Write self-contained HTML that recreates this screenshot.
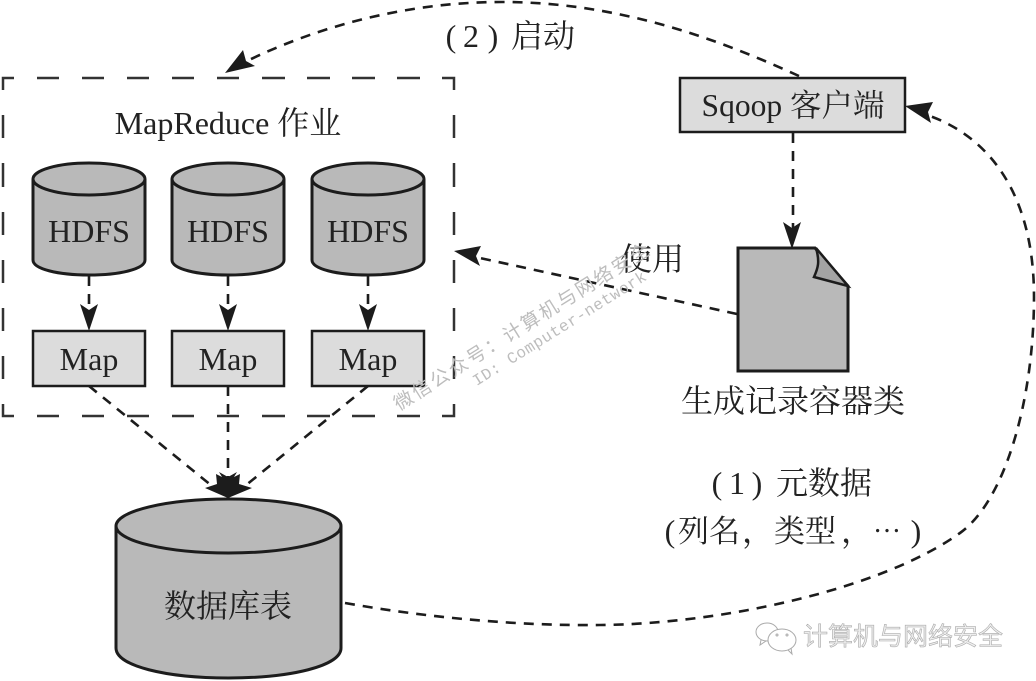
<!DOCTYPE html>
<html><head><meta charset="utf-8">
<style>
html,body{margin:0;padding:0;background:#fff;width:1036px;height:681px;overflow:hidden}
svg{display:block}
text{font-family:"Liberation Serif","Noto Serif CJK SC",serif;fill:#222;font-size:32px}
.c{text-anchor:middle}
.cy{fill:#b9b9b9;stroke:#1c1c1c;stroke-width:3}
.bx{fill:#dcdcdc;stroke:#1c1c1c;stroke-width:2.5}
.d{fill:none;stroke:#1c1c1c;stroke-width:2.6;stroke-dasharray:10 8}
.h{fill:#1c1c1c}
.wm{font-family:"Liberation Sans","Noto Sans CJK SC",sans-serif;fill:#bdbdbd;font-size:19px}
</style></head><body>
<svg width="1036" height="681" viewBox="0 0 1036 681" xmlns="http://www.w3.org/2000/svg">
<rect width="1036" height="681" fill="#fff"/>
<path fill="none" stroke="#333" stroke-width="2.5" d="M14 78H3V90M37 78H59M82 78H104M127 78H149M172 78H194M217 78H239M262 78H285M307 78H330M352 78H375M397 78H420M442 78H454V90M3 115V138M3 163V187M3 212V235M3 260V283M3 308V331M3 356V379M3 404V416H14M37 416H59M82 416H104M127 416H149M172 416H194M217 416H239M262 416H285M307 416H330M352 416H375M397 416H420M442 416H454V404M454 115V138M454 163V187M454 212V235M454 260V283M454 308V331M454 356V379"/>

<text x="228" y="134" class="c">MapReduce 作业</text>

<path class="cy" d="M33 179V260C33 269 58 275 89 275S145 269 145 260V179"/><ellipse class="cy" cx="89" cy="179" rx="56" ry="16"/>
<path class="cy" d="M172 179V260C172 269 197 275 228 275S284 269 284 260V179"/><ellipse class="cy" cx="228" cy="179" rx="56" ry="16"/>
<path class="cy" d="M312 179V260C312 269 337 275 368 275S424 269 424 260V179"/><ellipse class="cy" cx="368" cy="179" rx="56" ry="16"/>
<text x="89" y="242" class="c">HDFS</text><text x="228" y="242" class="c">HDFS</text><text x="368" y="242" class="c">HDFS</text>

<path class="d" d="M89 276V306M228 276V306M368 276V306"/>
<path class="h" d="M89 331L80 304L89 310L98 304ZM228 331L219 304L228 310L237 304ZM368 331L359 304L368 310L377 304Z"/>

<rect class="bx" x="33" y="331" width="112" height="55"/>
<rect class="bx" x="172" y="331" width="112" height="55"/>
<rect class="bx" x="312" y="331" width="112" height="55"/>
<text x="89" y="370" class="c">Map</text><text x="228" y="370" class="c">Map</text><text x="368" y="370" class="c">Map</text>

<path class="d" d="M89 386L212 486M228 386V478M368 386L245 486"/>
<path class="h" d="M228 498L205 488L217 484L216 474L222 477L219 472L228 477L237 472L234 477L240 474L239 484L252 488Z"/>

<path class="cy" d="M116 526V648C116 666 166 678 228.500 678S341 666 341 648V526"/><ellipse class="cy" cx="228.500" cy="526" rx="112.500" ry="27"/>
<text x="228" y="617" class="c">数据库表</text>

<rect class="bx" x="680" y="78" width="225" height="54"/>
<text x="793" y="116" class="c" style="font-size:31.500px">Sqoop 客户端</text>

<path class="d" d="M793 133V228"/>
<path class="h" d="M792 249L783 222L792 228L801 222Z"/>

<path d="M738 248H815L848 286V371H738Z" fill="#b9b9b9" stroke="#1c1c1c" stroke-width="3"/>
<path d="M816 248C820 262 818 268 814 277L848 286Z" fill="#a4a4a4" stroke="#1c1c1c" stroke-width="2.500"/>
<text x="793" y="412" class="c">生成记录容器类</text>

<path class="d" d="M737 314L480 258"/>
<path class="h" d="M454 251L481 246L476 256L480 266Z"/>
<text x="652" y="270" class="c">使用</text>

<path class="d" d="M799 76C720 40 620 2 502 2C400 2 310 30 245 62"/>
<path class="h" d="M225 73L243 50L246 61L255 66Z"/>
<text x="451" y="47" class="c">(</text><text x="471" y="47" class="c">2</text><text x="493" y="47" class="c">)</text>
<text x="543" y="47" class="c">启动</text>

<path class="d" d="M345 603C430 618 520 626 600 625C720 624 880 590 960 533C1005 501 1034 400 1034 297C1034 195 990 138 930 116"/>
<path class="h" d="M905 106L933 102L928 112L931 123Z"/>

<text x="717" y="494" class="c">(</text><text x="737" y="494" class="c">1</text><text x="757" y="494" class="c">)</text>
<text x="824" y="494" class="c">元数据</text>
<text x="670" y="542" class="c">(</text>
<text x="709" y="542" class="c" style="font-size:31px">列名</text>
<text x="742" y="542">，</text>
<text x="805" y="542" class="c" style="font-size:31px">类型</text>
<text x="841" y="542">，</text>
<text x="887" y="532" class="c" style="font-size:28px">…</text>
<text x="916" y="542" class="c">)</text>

<g transform="translate(399 411) rotate(-32)">
<text class="wm" x="0" y="0" letter-spacing="2.400">微信公众号：计算机与网络安全</text>
<text class="wm" x="79" y="20" letter-spacing="0.500" style="font-family:'Liberation Mono',monospace;font-size:16px">ID: Computer-network</text>
</g>

<g fill="none" stroke="#aaa" stroke-width="1">
<ellipse cx="767" cy="632" rx="11" ry="9"/>
<path d="M761 640L760 645L766 641"/>
<ellipse cx="782" cy="640" rx="14" ry="11" fill="#fff"/>
<path d="M788 650L792 654L791 648"/>
<circle cx="777" cy="635" r="1"/><circle cx="787" cy="635" r="1"/>
</g>
<text x="903" y="645" class="c" style="font-family:'Liberation Sans','Noto Sans CJK SC',sans-serif;font-size:25px;fill:#eee;stroke:#aaa;stroke-width:.6">计算机与网络安全</text>
</svg>
</body></html>
